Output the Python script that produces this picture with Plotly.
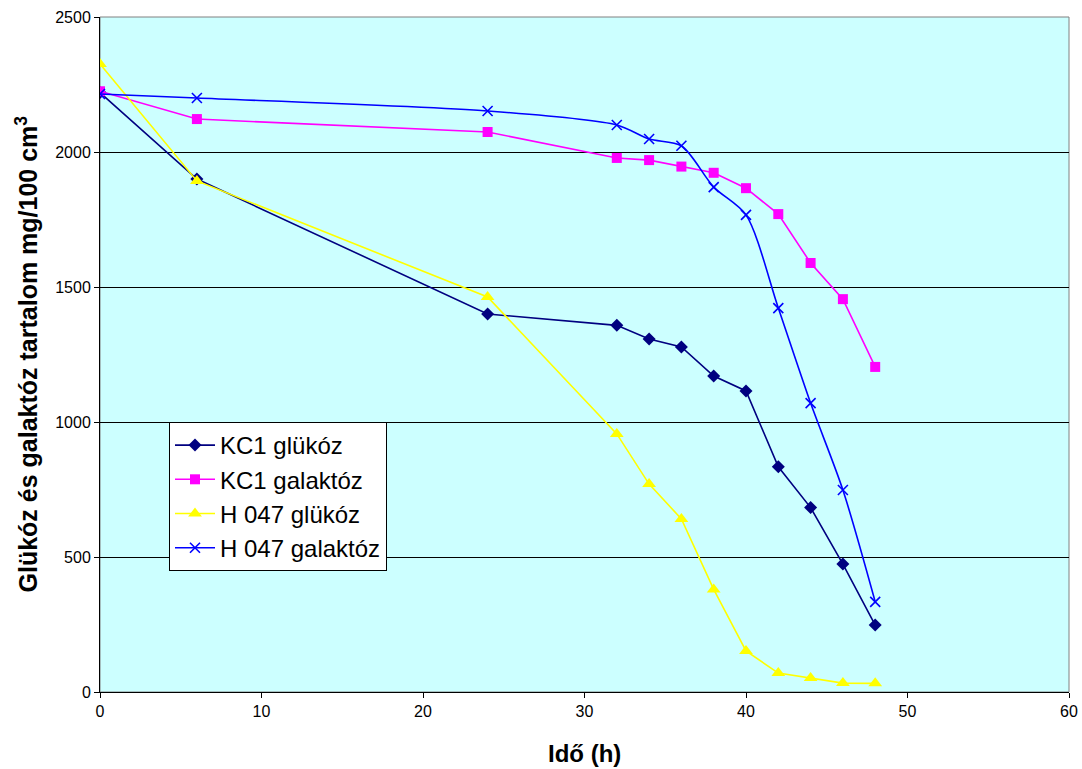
import plotly.graph_objects as go

time_h = [0, 6, 24, 32, 34, 36, 38, 40, 42, 44, 46, 48]
kc1_glukoz = [2220, 1900, 1400, 1358, 1307, 1278, 1170, 1115, 834, 683, 474, 248]
kc1_galaktoz = [2225, 2122, 2074, 1978, 1970, 1946, 1923, 1866, 1770, 1589, 1455, 1204]
h047_glukoz = [2326, 1893, 1463, 956, 770, 641, 380, 152, 70, 52, 33, 32]
h047_galaktoz = [2215, 2200, 2152, 2100, 2048, 2023, 1870, 1767, 1422, 1070, 748, 334]

x_title = "Idő (h)"
y_title = "Glükóz és galaktóz tartalom mg/100 cm<sup>3</sup>"

fig = go.Figure()
fig.add_trace(go.Scatter(x=time_h, y=kc1_glukoz, name="KC1 glükóz", mode="lines+markers",
                         line=dict(color="#000080", width=1.6),
                         marker=dict(symbol="diamond", size=10, color="#000080")))
fig.add_trace(go.Scatter(x=time_h, y=kc1_galaktoz, name="KC1 galaktóz", mode="lines+markers",
                         line=dict(color="#FF00FF", width=1.6),
                         marker=dict(symbol="square", size=10, color="#FF00FF")))
fig.add_trace(go.Scatter(x=time_h, y=h047_glukoz, name="H 047 glükóz", mode="lines+markers",
                         line=dict(color="#FFFF00", width=1.6),
                         marker=dict(symbol="triangle-up", size=12, color="#FFFF00")))
fig.add_trace(go.Scatter(x=time_h, y=h047_galaktoz, name="H 047 galaktóz", mode="lines+markers",
                         line=dict(color="#0000FF", width=1.6, shape="spline", smoothing=0.8),
                         marker=dict(symbol="x-thin-open", size=10, color="#0000FF",
                                     line=dict(color="#0000FF", width=1.6))))

plot_w = 1082 - 100 - 13
fig.update_layout(
    width=1082, height=769,
    margin=dict(l=100, r=13, t=17, b=77),
    paper_bgcolor="white", plot_bgcolor="#CCFFFF",
    font=dict(family="Arial, Liberation Sans, sans-serif", color="black", size=16),
    showlegend=True,
    legend=dict(x=(169 - 100) / plot_w, y=(692 - 422) / 675, xanchor="left", yanchor="top",
                bgcolor="white", bordercolor="black", borderwidth=1,
                font=dict(size=24), tracegroupgap=0, itemwidth=40),
    shapes=[dict(type="rect", xref="paper", yref="paper", x0=0, x1=1, y0=0, y1=1,
                 line=dict(color="#808080", width=1), layer="below")],
    annotations=[
        dict(text="<b>" + x_title + "</b>", xref="paper", yref="paper",
             x=0.5, y=(692 - 753) / 675, xanchor="center", yanchor="middle",
             showarrow=False, font=dict(size=24)),
        dict(text="<b>" + y_title + "</b>", xref="paper", yref="paper",
             x=(26 - 100) / plot_w, y=0.5, xanchor="center", yanchor="middle",
             textangle=-90, showarrow=False, font=dict(size=25)),
    ],
)
fig.update_xaxes(range=[0, 60], dtick=10, showgrid=False, zeroline=False, automargin=False,
                 showline=True, linecolor="black", linewidth=1,
                 ticks="outside", ticklen=5, tickcolor="black")
fig.update_yaxes(range=[0, 2500], dtick=500, showgrid=True, gridcolor="black", gridwidth=1,
                 zeroline=False, automargin=False, showline=True, linecolor="black", linewidth=1,
                 ticks="outside", ticklen=5, tickcolor="black")

fig.write_html("out.html")
